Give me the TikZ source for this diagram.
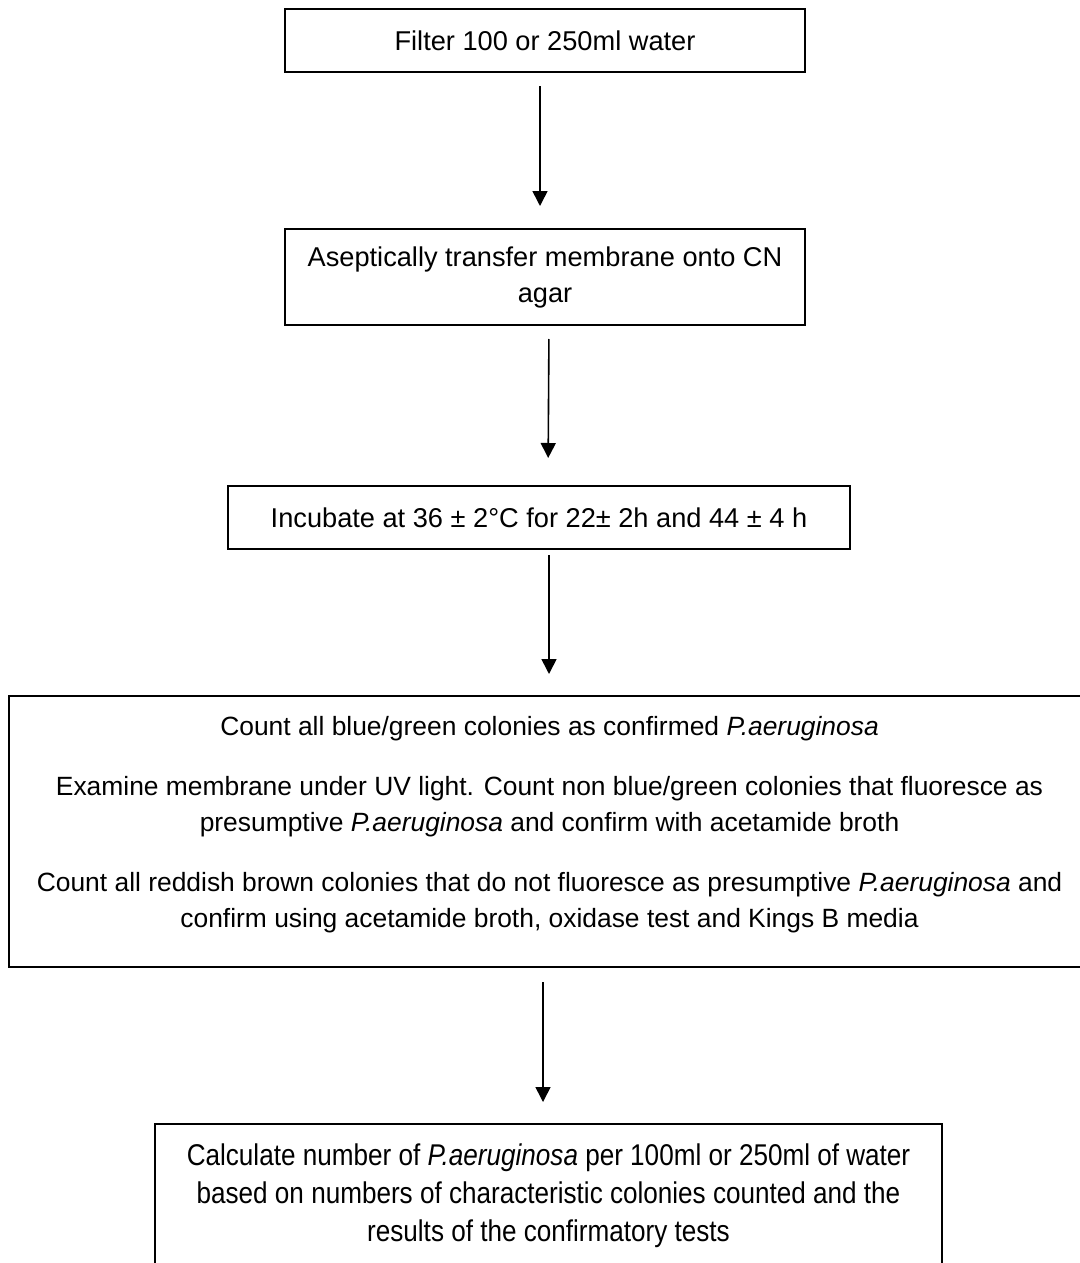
\documentclass[tikz,border=0pt]{standalone}
\usepackage{fontspec}
\setmainfont{Liberation Sans}
\newfontfamily\narrowfont[FakeStretch=0.87]{Liberation Sans}
\usetikzlibrary{arrows.meta}
\tikzset{
    process/.style={
        draw, rectangle, line width=1pt, inner sep=0pt, align=center, fill=white, text=black, font=\fontsize{13.6}{18}\selectfont
    },
    bigprocess/.style={
        process, font=\fontsize{13.2}{18}\selectfont
    },
    narrowprocess/.style={
        process, font=\narrowfont\fontsize{15}{19}\selectfont
    },
    arrow/.style={
        line width=0.8pt, -{Triangle[length=7.5pt,width=7.5pt]}
    }
}
\begin{document}
\begin{tikzpicture}[x=0.5pt, y=-0.5pt]  % one unit = one pixel of the reference

    \useasboundingbox (0,0) rectangle (1080,1263);
    \clip (0,0) rectangle (1080,1263);

    % nodes
    \node (filter) [process, minimum width=260pt, minimum height=31.5pt] at (545,41) {Filter 100 or 250ml water};
    \node (transfer) [process, minimum width=260pt, minimum height=48pt] at (545,277) {Aseptically transfer membrane onto CN\\agar};
    \node (incubate) [process, minimum width=311pt, minimum height=31.5pt] at (539,517.5) {Incubate at 36 ± 2°C for 22± 2h and 44 ± 4 h};
    \node (count) [bigprocess, minimum width=540.5pt, minimum height=135.5pt] at (549.5,831.5) {Count all blue/green colonies as confirmed \textit{P.aeruginosa}\\[12pt]
        Examine membrane under UV light. Count non blue/green colonies that fluoresce as\\
        presumptive \textit{P.aeruginosa} and confirm with acetamide broth\\[12pt]
        Count all reddish brown colonies that do not fluoresce as presumptive \textit{P.aeruginosa} and\\
        confirm using acetamide broth, oxidase test and Kings B media\rule[-9.3pt]{0pt}{0pt}};
    \node (calc) [narrowprocess, minimum width=393.5pt, minimum height=72pt] at (548.5,1196) {Calculate number of \textit{P.aeruginosa} per 100ml or 250ml of water\\
        based on numbers of characteristic colonies counted and the\\
        results of the confirmatory tests};

    % arrows
    \draw [arrow, shorten <=6.5pt, shorten >=11pt] ([xshift=-2.5pt]filter.south) -- ([xshift=-2.5pt]transfer.north);
    \draw [arrow, shorten <=6.5pt, shorten >=13.5pt] ([xshift=2pt]transfer.south) -- ([xshift=4.5pt]incubate.north);
    \draw [arrow, shorten <=2.5pt, shorten >=10.5pt] ([xshift=5pt]incubate.south) -- ([xshift=-0.25pt]count.north);
    \draw [arrow, shorten <=7pt, shorten >=10.5pt] ([xshift=-3.25pt]count.south) -- ([xshift=-2.75pt]calc.north);

\end{tikzpicture}
\end{document}
